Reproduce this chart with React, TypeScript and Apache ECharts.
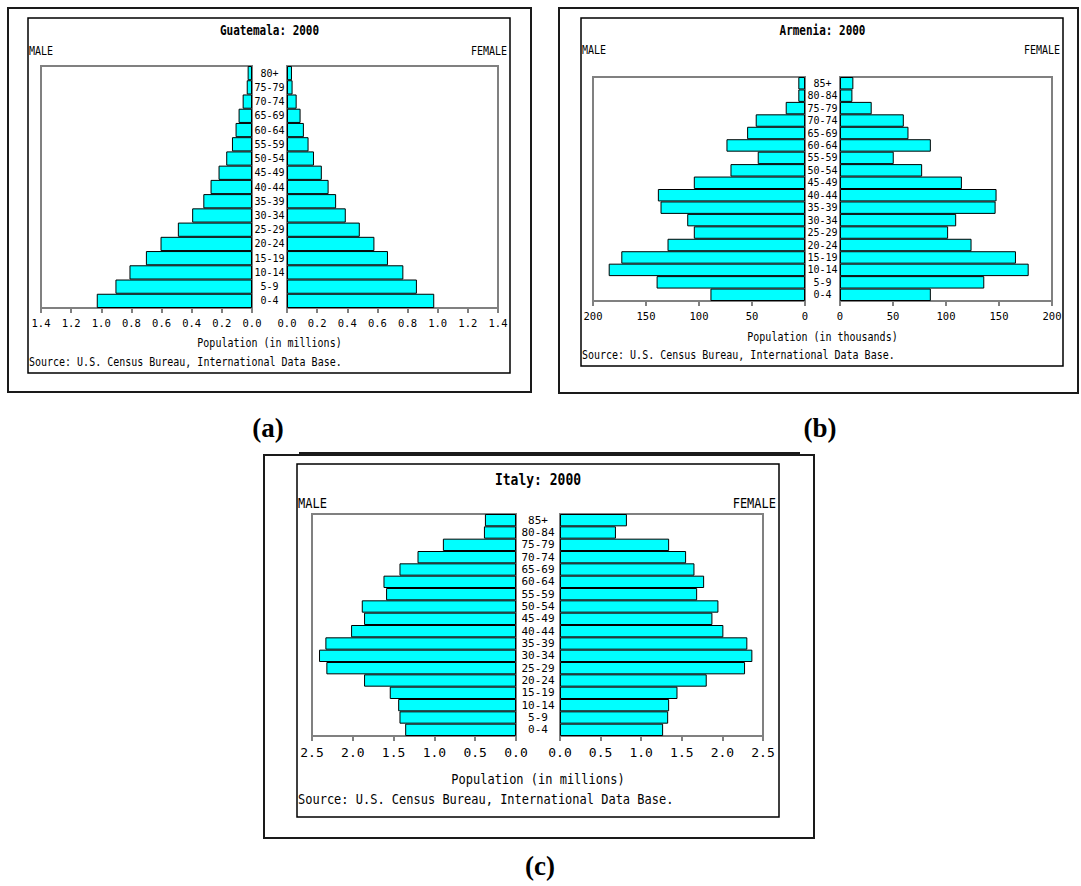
import React, { useEffect, useRef } from "react";
import * as echarts from "echarts";

// ---------- DATA ----------
const guatemalaAges = ["0-4", "5-9", "10-14", "15-19", "20-24", "25-29", "30-34", "35-39", "40-44", "45-49", "50-54", "55-59", "60-64", "65-69", "70-74", "75-79", "80+"];
const guatemalaMale = [1.03, 0.906, 0.813, 0.704, 0.607, 0.492, 0.397, 0.323, 0.275, 0.222, 0.171, 0.133, 0.109, 0.089, 0.062, 0.035, 0.029];
const guatemalaFemale = [0.977, 0.862, 0.772, 0.67, 0.58, 0.483, 0.39, 0.326, 0.276, 0.231, 0.179, 0.143, 0.112, 0.09, 0.064, 0.037, 0.033];

const armeniaAges = ["0-4", "5-9", "10-14", "15-19", "20-24", "25-29", "30-34", "35-39", "40-44", "45-49", "50-54", "55-59", "60-64", "65-69", "70-74", "75-79", "80-84", "85+"];
const armeniaMale = [89.2, 140.0, 185.2, 173.3, 129.7, 104.9, 111.1, 136.3, 138.8, 104.9, 70.3, 44.6, 74.1, 54.6, 46.5, 18.2, 6.3, 6.3];
const armeniaFemale = [85.7, 136.1, 178.0, 166.0, 124.1, 102.0, 109.6, 146.8, 147.7, 115.0, 77.5, 50.7, 85.7, 64.6, 60.2, 29.9, 11.7, 12.6];

const italyAges = ["0-4", "5-9", "10-14", "15-19", "20-24", "25-29", "30-34", "35-39", "40-44", "45-49", "50-54", "55-59", "60-64", "65-69", "70-74", "75-79", "80-84", "85+"];
const italyMale = [1.358, 1.428, 1.444, 1.547, 1.862, 2.324, 2.414, 2.336, 2.021, 1.862, 1.89, 1.592, 1.624, 1.428, 1.207, 0.896, 0.393, 0.381];
const italyFemale = [1.27, 1.332, 1.344, 1.447, 1.807, 2.279, 2.369, 2.307, 2.012, 1.877, 1.951, 1.689, 1.775, 1.656, 1.553, 1.344, 0.689, 0.824];

const guatemalaScale = { max: 1.4, interval: 0.2, decimals: 1 };
const armeniaScale = { max: 200, interval: 50, decimals: 0 };
const italyScale = { max: 2.5, interval: 0.5, decimals: 1 };

const sourceText = "Source: U.S. Census Bureau, International Data Base.";

// ---------- LAYOUT ----------
const MONO = '"DejaVu Sans Mono", "Liberation Mono", monospace';

const panels = [
  {
    title: "Guatemala: 2000", unit: "Population (in millions)", letter: "(a)",
    ages: guatemalaAges, male: guatemalaMale, female: guatemalaFemale, scale: guatemalaScale,
    outer: [8, 8, 523, 384], inner: [28, 18, 482, 355],
    titleY: 31, sexY: 51, maleL: 41, maleR: 252, femL: 287, femR: 498, top: 66, bottom: 308,
    tickMargin: 9, unitY: 343, srcY: 362, font: 10, tickFont: 10.5, titleFont: 11, catFont: 10, catLine: 12,
    letterX: 268, letterY: 428,
  },
  {
    title: "Armenia: 2000", unit: "Population (in thousands)", letter: "(b)",
    ages: armeniaAges, male: armeniaMale, female: armeniaFemale, scale: armeniaScale,
    outer: [559, 8, 519, 385], inner: [581, 18, 482, 348],
    titleY: 31, sexY: 50, maleL: 593, maleR: 805, femL: 840, femR: 1052, top: 77, bottom: 301,
    tickMargin: 9, unitY: 337, srcY: 355, font: 10, tickFont: 10.5, titleFont: 11, catFont: 10, catLine: 11,
    letterX: 820, letterY: 428,
  },
  {
    title: "Italy: 2000", unit: "Population (in millions)", letter: "(c)",
    ages: italyAges, male: italyMale, female: italyFemale, scale: italyScale,
    outer: [264, 455, 550, 383], inner: [297, 464, 482, 353],
    titleY: 480, sexY: 503, maleL: 312, maleR: 516, femL: 560, femR: 763, top: 514, bottom: 736,
    tickMargin: 10, unitY: 779, srcY: 799, font: 12, tickFont: 13, titleFont: 13, catFont: 11, catLine: 11,
    letterX: 540, letterY: 866,
  },
];

function txt(text: string, x: number, y: number, font: string, align: string, scaleY = 1.22) {
  return {
    type: "text",
    x,
    y,
    scaleY,
    silent: true,
    style: {
      text,
      x: 0,
      y: 0,
      font,
      fill: "#000",
      align,
      textAlign: align,
      verticalAlign: "middle",
      textVerticalAlign: "middle",
    },
  };
}

function buildOption() {
  const grid: any[] = [];
  const xAxis: any[] = [];
  const yAxis: any[] = [];
  const series: any[] = [];
  const graphic: any[] = [];

  panels.forEach((p, i) => {
    const h = p.bottom - p.top;
    const axisCommon = (inverse: boolean, gi: number) => ({
      type: "value",
      gridIndex: gi,
      inverse,
      min: 0,
      max: p.scale.max,
      interval: p.scale.interval,
      splitLine: { show: false },
      axisLine: { show: true, lineStyle: { color: "#808080", width: 2 } },
      axisTick: { show: true, length: 5, lineStyle: { color: "#808080", width: 2 } },
      axisLabel: {
        show: true,
        margin: p.tickMargin,
        fontFamily: MONO,
        fontSize: p.tickFont,
        color: "#000",
        formatter: (v: number) => Number(v).toFixed(p.scale.decimals),
      },
    });
    const gm = i * 2;
    const gf = i * 2 + 1;
    grid.push({
      left: p.maleL, top: p.top, width: p.maleR - p.maleL, height: h,
      show: true, borderColor: "#808080", borderWidth: 2, backgroundColor: "transparent",
    });
    grid.push({
      left: p.femL, top: p.top, width: p.femR - p.femL, height: h,
      show: true, borderColor: "#808080", borderWidth: 2, backgroundColor: "transparent",
    });
    xAxis.push(axisCommon(true, gm));
    xAxis.push(axisCommon(false, gf));
    yAxis.push({
      type: "category", gridIndex: gm, data: p.ages, position: "right",
      axisLine: { show: false }, axisTick: { show: false }, axisLabel: { show: false },
    });
    yAxis.push({
      type: "category", gridIndex: gf, data: p.ages, position: "left",
      axisLine: { show: false }, axisTick: { show: false },
      axisLabel: {
        show: true, interval: 0, align: "center",
        margin: (p.femL - p.maleR) / 2,
        fontFamily: MONO, fontSize: p.catFont, lineHeight: p.catLine, color: "#000",
      },
    });
    const barStyle = { color: "#00FFFF", borderColor: "#000", borderWidth: 1 };
    series.push({
      type: "bar", name: p.title + " male", xAxisIndex: gm, yAxisIndex: gm,
      data: p.male, barCategoryGap: "0%", itemStyle: barStyle, silent: true,
    });
    series.push({
      type: "bar", name: p.title + " female", xAxisIndex: gf, yAxisIndex: gf,
      data: p.female, barCategoryGap: "0%", itemStyle: barStyle, silent: true,
    });

    // frames
    graphic.push({
      type: "rect", silent: true,
      shape: { x: p.outer[0], y: p.outer[1], width: p.outer[2], height: p.outer[3] },
      style: { fill: "none", stroke: "#1a1a1a", lineWidth: 2 },
    });
    graphic.push({
      type: "rect", silent: true,
      shape: { x: p.inner[0], y: p.inner[1], width: p.inner[2], height: p.inner[3] },
      style: { fill: "none", stroke: "#000", lineWidth: 1.5 },
    });
    const cx = (p.maleR + p.femL) / 2;
    const innerL = p.inner[0] + 1;
    const innerR = p.inner[0] + p.inner[2] - 3;
    graphic.push(txt(p.title, cx, p.titleY, `bold ${p.titleFont}px ${MONO}`, "center"));
    graphic.push(txt("MALE", innerL, p.sexY, `${p.font}px ${MONO}`, "left"));
    graphic.push(txt("FEMALE", innerR, p.sexY, `${p.font}px ${MONO}`, "right"));
    graphic.push(txt(p.unit, cx, p.unitY, `${p.font}px ${MONO}`, "center"));
    graphic.push(txt(sourceText, innerL, p.srcY, `${p.font}px ${MONO}`, "left"));
    graphic.push(txt(p.letter, p.letterX, p.letterY, `bold 27px "Liberation Serif", "Times New Roman", serif`, "center", 1));
  });

  // extra top rule of panel (c)
  graphic.push({
    type: "line", silent: true,
    shape: { x1: 299, y1: 453, x2: 800, y2: 453 },
    style: { stroke: "#1a1a1a", lineWidth: 2 },
  });

  return {
    animation: false,
    backgroundColor: "#ffffff",
    grid,
    xAxis,
    yAxis,
    series,
    graphic,
  };
}

export default function App() {
  const ref = useRef<HTMLDivElement>(null);
  useEffect(() => {
    document.body.style.margin = "0";
    if (!ref.current) return;
    const chart = echarts.init(ref.current, undefined, { renderer: "svg" });
    chart.setOption(buildOption() as any);
    return () => chart.dispose();
  }, []);
  return <div ref={ref} style={{ width: 1081, height: 886 }} />;
}
